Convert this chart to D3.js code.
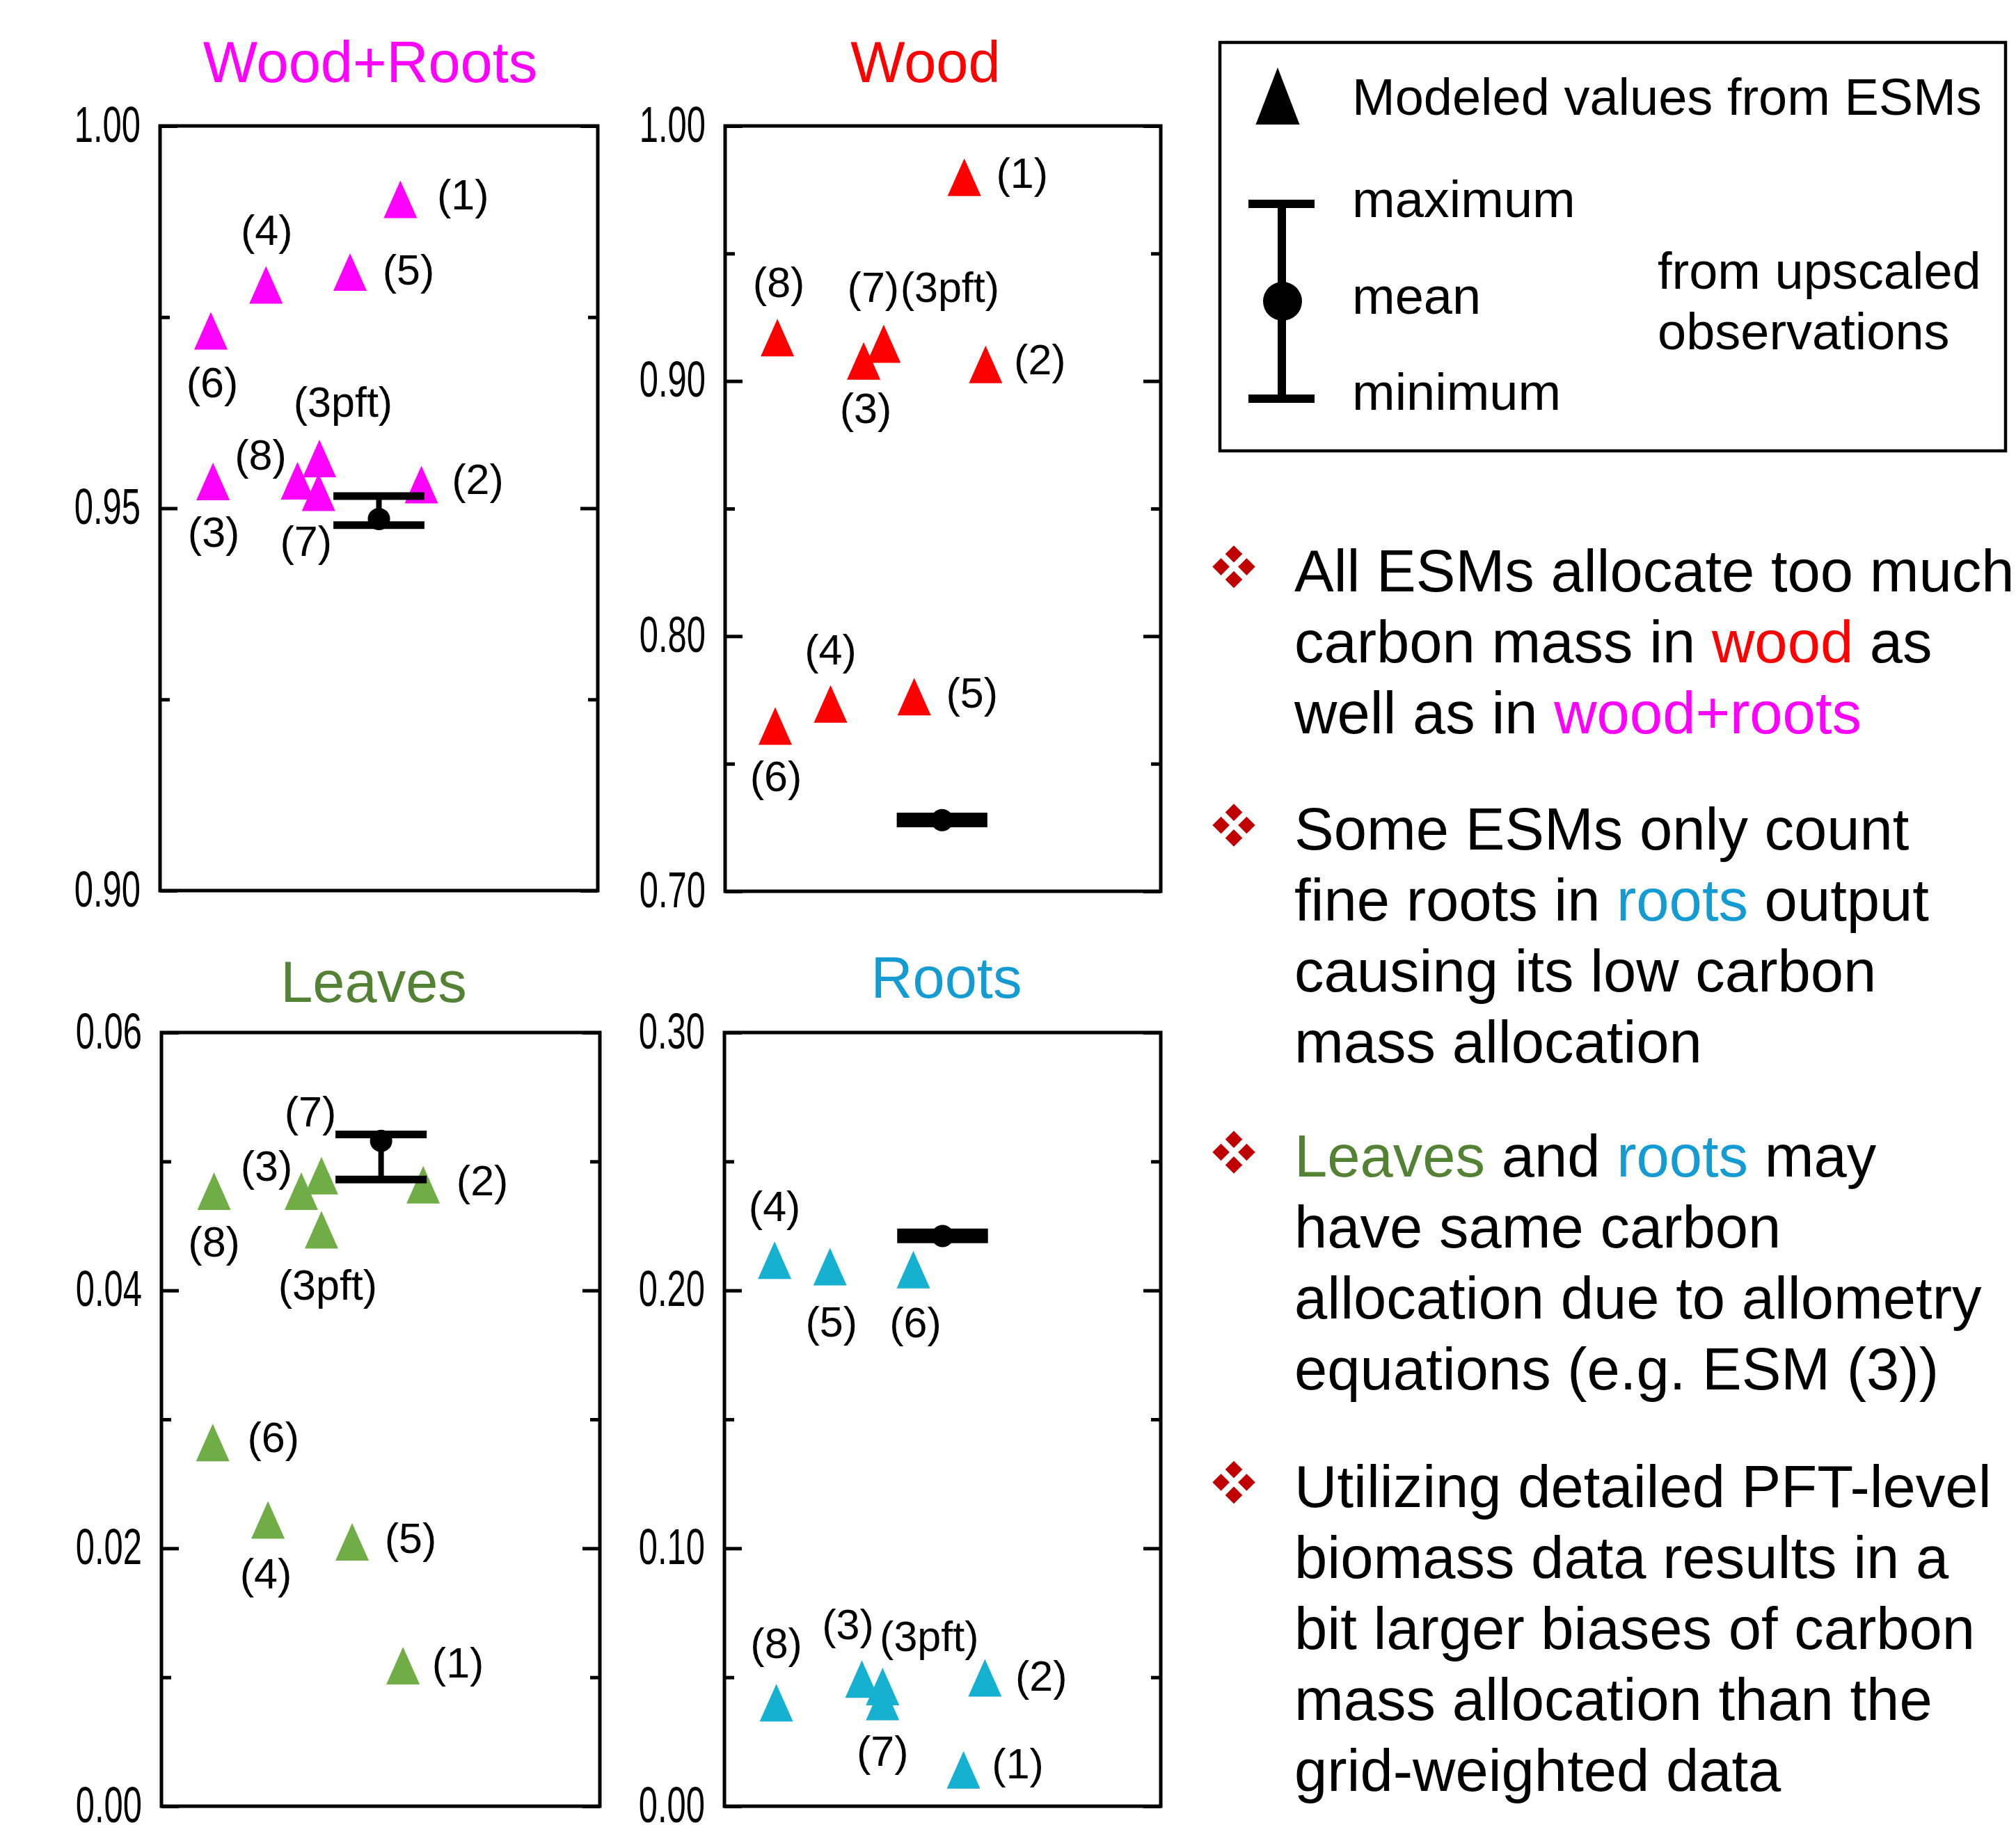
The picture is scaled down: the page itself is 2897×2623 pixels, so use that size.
<!DOCTYPE html>
<html>
<head>
<meta charset="utf-8">
<script src="https://cdn.jsdelivr.net/npm/d3@7"></script>
<style>
  html, body { margin: 0; padding: 0; background: #fff; }
  svg { display: block; }
</style>
</head>
<body>
<svg id="chart" width="2897" height="2623"></svg>
<script>
// ---------------------------------------------------------------
// Data: carbon mass allocation fractions per ESM and per pool
// ---------------------------------------------------------------
const panelNames = ["Wood+Roots", "Wood", "Leaves", "Roots"];
const modelLabels = ["(1)", "(2)", "(3)", "(3pft)", "(4)", "(5)", "(6)", "(7)", "(8)"];

// horizontal slot of each model inside a panel (0 = left frame, 1 = right frame)
const woodRootsX = [0.549, 0.597, 0.121, 0.364, 0.242, 0.434, 0.116, 0.362, 0.314];
const woodX      = [0.549, 0.598, 0.318, 0.364, 0.242, 0.434, 0.115, 0.364, 0.120];
const leavesX    = [0.551, 0.597, 0.319, 0.365, 0.243, 0.435, 0.117, 0.365, 0.120];
const rootsX     = [0.548, 0.597, 0.315, 0.3625, 0.115, 0.242, 0.433, 0.3625, 0.119];

// modeled allocation fractions
const woodRootsValues = [0.9904, 0.9531, 0.9535, 0.9565, 0.9792, 0.9809, 0.9732, 0.9521, 0.9536];
const woodValues      = [0.9799, 0.9065, 0.9079, 0.9145, 0.7734, 0.7763, 0.7648, 0.9147, 0.9170];
const leavesValues    = [0.0109, 0.0482, 0.0477, 0.0447, 0.0222, 0.0205, 0.0282, 0.0489, 0.0477];
const rootsValues     = [0.0141, 0.0498, 0.0493, 0.0464, 0.2117, 0.2092, 0.2081, 0.0406, 0.0401];

// upscaled observations (per panel, same order as panelNames)
const obsX    = [0.500, 0.498, 0.501, 0.500];
const obsMin  = [0.9478, 0.7266, 0.0486, 0.2198];
const obsMean = [0.9486, 0.7279, 0.0516, 0.2211];
const obsMax  = [0.9516, 0.7293, 0.0521, 0.2225];

// y axes
const yDomains = [[0.90, 1.00], [0.70, 1.00], [0.00, 0.06], [0.00, 0.30]];
const woodRootsTicks = [0.90, 0.95, 1.00];
const woodTicks      = [0.70, 0.80, 0.90, 1.00];
const leavesTicks    = [0.00, 0.02, 0.04, 0.06];
const rootsTicks     = [0.00, 0.10, 0.20, 0.30];

// legend and notes text
const legendModelText = "Modeled values from ESMs";
const legendStatText = ["maximum", "mean", "minimum"];
const legendSourceText = ["from upscaled", "observations"];

const notes = [
  [
    [["All ESMs allocate too much"]],
    [["carbon mass in "], ["wood", "wood"], [" as"]],
    [["well as in "], ["wood+roots", "woodroots"]]
  ],
  [
    [["Some ESMs only count"]],
    [["fine roots in "], ["roots", "roots"], [" output"]],
    [["causing its low carbon"]],
    [["mass allocation"]]
  ],
  [
    [["Leaves", "leaves"], [" and "], ["roots", "roots"], [" may"]],
    [["have same carbon"]],
    [["allocation due to allometry"]],
    [["equations (e.g. ESM (3))"]]
  ],
  [
    [["Utilizing detailed PFT-level"]],
    [["biomass data results in a"]],
    [["bit larger biases of carbon"]],
    [["mass allocation than the"]],
    [["grid-weighted data"]]
  ]
];

// ---------------------------------------------------------------
// Styling / layout
// ---------------------------------------------------------------
const FONT = "'Liberation Sans', Arial, Helvetica, sans-serif";

const textColors = {
  wood: "#ff0000", woodroots: "#ff00ff", roots: "#149bd2", leaves: "#548235"
};

const panelLayout = [
  { left: 230,  right: 859,  top: 181,  bottom: 1280, titleX: 532,  titleY: 118,  titleColor: "#ff00ff", markColor: "#ff00ff" },
  { left: 1042, right: 1668, top: 181,  bottom: 1281, titleX: 1330, titleY: 118,  titleColor: "#ff0000", markColor: "#ff0000" },
  { left: 232,  right: 862,  top: 1484, bottom: 2596, titleX: 537,  titleY: 1440, titleColor: "#548235", markColor: "#70ad47" },
  { left: 1041, right: 1668, top: 1484, bottom: 2596, titleX: 1360, titleY: 1434, titleColor: "#149bd2", markColor: "#16b0d0" }
];

// offset of each model's label from its marker, in px, model order as modelLabels
const labelOffsets = [
  [[90, -1], [81, -2], [1, 78], [34, -76], [1, -73], [84, 2], [2, 80], [-18, 76], [-53, -32]],
  [[83, -1], [78, -2], [3, 73], [95, -76], [0, -73], [83, 0], [1, 78], [-15, -76], [2, -74]],
  [[79, 1], [85, -1], [-50, -31], [9, 85], [-3, 83], [84, 0], [87, -2], [-16, -87], [0, 78]],
  [[78, -4], [81, 3], [-20, -73], [67, -67], [0, -72], [2, 85], [3, 81], [0, 77], [0, -80]]
];

const panelX = [woodRootsX, woodX, leavesX, rootsX];
const panelValues = [woodRootsValues, woodValues, leavesValues, rootsValues];
const panelTicks = [woodRootsTicks, woodTicks, leavesTicks, rootsTicks];

const MARK_W = 48, MARK_H = 54;
const BAR_HALF = 0.104;

const svg = d3.select("#chart");
svg.append("rect").attr("width", 2897).attr("height", 2623).attr("fill", "#fff");

function trianglePath(w, h) {
  const p = d3.path();
  p.moveTo(0, -h / 2);
  p.lineTo(w / 2, h / 2);
  p.lineTo(-w / 2, h / 2);
  p.closePath();
  return p.toString();
}

panelNames.forEach((name, i) => {
  const L = panelLayout[i];
  const x = d3.scaleLinear().domain([0, 1]).range([L.left, L.right]);
  const y = d3.scaleLinear().domain(yDomains[i]).range([L.bottom, L.top]);
  const g = svg.append("g").attr("class", "panel");

  // title
  g.append("text")
    .attr("x", L.titleX).attr("y", L.titleY)
    .attr("text-anchor", "middle")
    .attr("font-family", FONT).attr("font-size", 83)
    .attr("fill", L.titleColor)
    .text(name);

  // major and minor ticks on both sides, pointing inward
  const major = panelTicks[i];
  const minor = d3.pairs(major).map(([a, b]) => (a + b) / 2);
  const fmt = d3.format(".2f");

  const leftMajor = g.append("g").attr("transform", `translate(${L.left},0)`)
    .call(d3.axisLeft(y).tickValues(major).tickSize(-25).tickSizeOuter(0).tickPadding(28).tickFormat(fmt));
  const leftMinor = g.append("g").attr("transform", `translate(${L.left},0)`)
    .call(d3.axisLeft(y).tickValues(minor).tickSize(-14).tickSizeOuter(0).tickFormat(""));
  const rightMajor = g.append("g").attr("transform", `translate(${L.right},0)`)
    .call(d3.axisRight(y).tickValues(major).tickSize(-25).tickSizeOuter(0).tickFormat(""));
  const rightMinor = g.append("g").attr("transform", `translate(${L.right},0)`)
    .call(d3.axisRight(y).tickValues(minor).tickSize(-14).tickSizeOuter(0).tickFormat(""));

  [leftMajor, leftMinor, rightMajor, rightMinor].forEach(ax => {
    ax.select(".domain").remove();
    ax.selectAll(".tick line").attr("stroke", "#000").attr("stroke-width", 5);
  });
  // condensed tick labels
  leftMajor.selectAll(".tick text")
    .attr("x", 0)
    .attr("transform", "translate(-28,0) scale(0.68,1)")
    .attr("dy", "0.31em")
    .attr("font-family", FONT).attr("font-size", 72)
    .attr("fill", "#000");

  // frame
  g.append("rect")
    .attr("x", L.left).attr("y", L.top)
    .attr("width", L.right - L.left).attr("height", L.bottom - L.top)
    .attr("fill", "none").attr("stroke", "#000").attr("stroke-width", 5);

  // modeled values
  const pts = modelLabels.map((lab, k) => ({
    label: lab, xv: panelX[i][k], v: panelValues[i][k], off: labelOffsets[i][k]
  }));

  g.append("g").selectAll("path").data(pts).join("path")
    .attr("d", trianglePath(MARK_W, MARK_H))
    .attr("transform", d => `translate(${x(d.xv)},${y(d.v)})`)
    .attr("fill", L.markColor);

  g.append("g").selectAll("text").data(pts).join("text")
    .attr("x", d => x(d.xv) + d.off[0])
    .attr("y", d => y(d.v) + d.off[1])
    .attr("dy", "0.26em")
    .attr("text-anchor", "middle")
    .attr("font-family", FONT).attr("font-size", 61)
    .attr("fill", "#000")
    .text(d => d.label);

  // observation range: max / mean / min
  const ob = g.append("g");
  const ox = x(obsX[i]);
  ob.append("line")
    .attr("x1", ox).attr("x2", ox)
    .attr("y1", y(obsMax[i])).attr("y2", y(obsMin[i]))
    .attr("stroke", "#000").attr("stroke-width", 8);
  [obsMax[i], obsMin[i]].forEach(v => {
    ob.append("line")
      .attr("x1", x(obsX[i] - BAR_HALF)).attr("x2", x(obsX[i] + BAR_HALF))
      .attr("y1", y(v)).attr("y2", y(v))
      .attr("stroke", "#000").attr("stroke-width", 11);
  });
  ob.append("circle")
    .attr("cx", ox).attr("cy", y(obsMean[i])).attr("r", 16)
    .attr("fill", "#000");
});

// ---------------------------------------------------------------
// Legend
// ---------------------------------------------------------------
const lg = svg.append("g").attr("class", "legend");
lg.append("rect")
  .attr("x", 1753).attr("y", 61).attr("width", 1129).attr("height", 587)
  .attr("fill", "#fff").attr("stroke", "#000").attr("stroke-width", 4.5);

lg.append("path")
  .attr("d", trianglePath(63, 82))
  .attr("transform", "translate(1836,138)")
  .attr("fill", "#000");

lg.append("text")
  .attr("x", 1943).attr("y", 165)
  .attr("font-family", FONT).attr("font-size", 74)
  .text(legendModelText);

lg.append("line").attr("x1", 1842).attr("x2", 1842).attr("y1", 293).attr("y2", 573)
  .attr("stroke", "#000").attr("stroke-width", 12);
[293, 573].forEach(yy => {
  lg.append("line").attr("x1", 1794).attr("x2", 1889).attr("y1", yy).attr("y2", yy)
    .attr("stroke", "#000").attr("stroke-width", 12);
});
lg.append("circle").attr("cx", 1843).attr("cy", 433).attr("r", 28).attr("fill", "#000");

const statBaselines = [312, 451, 589];
legendStatText.forEach((t, k) => {
  lg.append("text")
    .attr("x", 1943).attr("y", statBaselines[k])
    .attr("font-family", FONT).attr("font-size", 74)
    .text(t);
});
legendSourceText.forEach((t, k) => {
  lg.append("text")
    .attr("x", 2382).attr("y", 415 + k * 87)
    .attr("font-family", FONT).attr("font-size", 74)
    .text(t);
});

// ---------------------------------------------------------------
// Notes with bullet markers
// ---------------------------------------------------------------
const nt = svg.append("g").attr("class", "notes");
const paraStart = [849.6, 1221, 1691, 2165.5];
const LINE = 102;

function bulletMark(g, cx, cy) {
  const r = 12.3, d = 18.4;
  [[0, -d], [-d, 0], [d, 0], [0, d]].forEach(([dx, dy]) => {
    g.append("path")
      .attr("d", `M${cx + dx},${cy + dy - r} L${cx + dx + r},${cy + dy} L${cx + dx},${cy + dy + r} L${cx + dx - r},${cy + dy} Z`)
      .attr("fill", "#c00000");
  });
}

notes.forEach((para, p) => {
  bulletMark(nt, 1773, paraStart[p] - 35);
  para.forEach((line, li) => {
    const t = nt.append("text")
      .attr("x", 1860).attr("y", paraStart[p] + li * LINE)
      .attr("font-family", FONT).attr("font-size", 85)
      .attr("fill", "#000");
    line.forEach(([s, c]) => {
      t.append("tspan").attr("fill", c ? textColors[c] : "#000").text(s);
    });
  });
});
</script>
</body>
</html>
